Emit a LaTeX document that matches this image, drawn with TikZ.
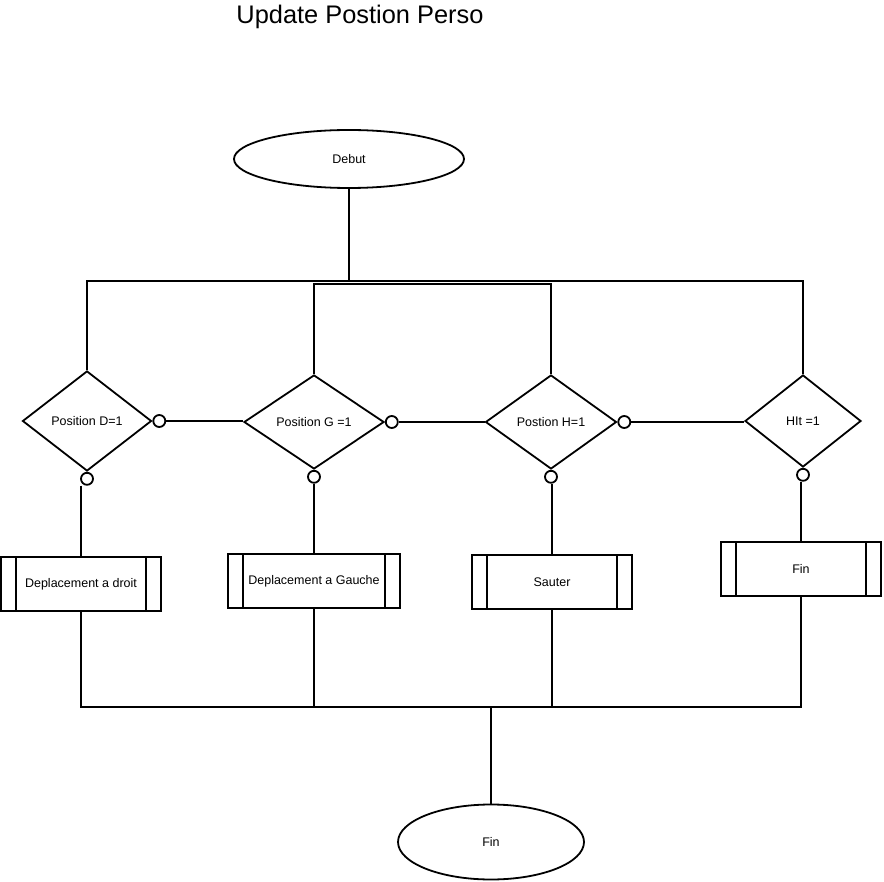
\documentclass[tikz,border=0pt]{standalone}
\usepackage{fontspec}
\setmainfont{Liberation Sans}
\usetikzlibrary{shapes.geometric,calc}

\begin{document}
\begin{tikzpicture}[x=1pt,y=-1pt,line width=1.8pt,
	font=\fontsize{12.5}{15}\selectfont,
	term/.style={ellipse,draw,inner sep=0pt},
	cond/.style={diamond,draw,inner sep=0pt},
	proc/.style={rectangle,draw,inner sep=0pt,minimum width=160pt,minimum height=54pt},
	port/.style={circle,draw,fill=white,inner sep=0pt,minimum size=12pt}]
	
	\useasboundingbox (0,0) rectangle (884,882);
	
	\node (titre) at (360,17) {\fontsize{25.4}{30}\selectfont Update Postion Perso};
	
	\node[term,minimum width=230pt,minimum height=58pt] (debut) at (349,159) {Debut};
	\node[term,minimum width=186pt,minimum height=75pt] (fin) at (491,842) {Fin};
	
	\node[cond,minimum width=129pt,minimum height=100pt] (d1) at (87,421) {Position D=1};
	\node[cond,minimum width=140pt,minimum height=94pt] (d2) at (314,422) {Position G =1};
	\node[cond,minimum width=131pt,minimum height=94pt] (d3) at (551,422) {Postion H=1};
	\node[cond,minimum width=116pt,minimum height=92pt] (d4) at (803,421) {HIt =1};
	
	\foreach \d in {1,2,3,4}
		\node[port,anchor=north] (b\d) at (d\d.south) {};
	\foreach \d in {1,2,3}
		\node[port,anchor=west] (r\d) at (d\d.east) {};
	
	\node[proc] (p1) at (81,584) {Deplacement a droit};
	\node[proc,minimum width=172pt] (p2) at (314,581) {Deplacement a Gauche};
	\node[proc] (p3) at (552,582) {Sauter};
	\node[proc] (p4) at (801,569) {Fin};
	\foreach \p in {1,2,3,4} {
		\draw ([xshift=16pt]p\p.north west) -- ([xshift=16pt]p\p.south west);
		\draw ([xshift=-16pt]p\p.north east) -- ([xshift=-16pt]p\p.south east);
	}
	
	\coordinate (haut) at (349,281);
	\coordinate (bas) at (491,707);
	
	\draw (debut) -- (haut);
	\draw (d1.north) |- (haut) -| (d4.north);
	\draw (d2.north) |- ($(d2.north |- haut)+(0,3)$) -| (d3.north);
	
	\draw (r1) -- (r1 -| d2.west);
	\draw (r2) -- (d3.west);
	\draw (r3) -- (r3 -| d4.west);
	
	\foreach \d in {1,2,3,4}
		\draw (p\d.north |- b\d.south) -- (p\d.north);
	
	\draw (p1.south) |- (bas) -| (p4.south);
	\draw (p2.south) -- (p2.south |- bas);
	\draw (p3.south) -- (p3.south |- bas);
	\draw (bas) -- (fin);
	
\end{tikzpicture}
\end{document}
